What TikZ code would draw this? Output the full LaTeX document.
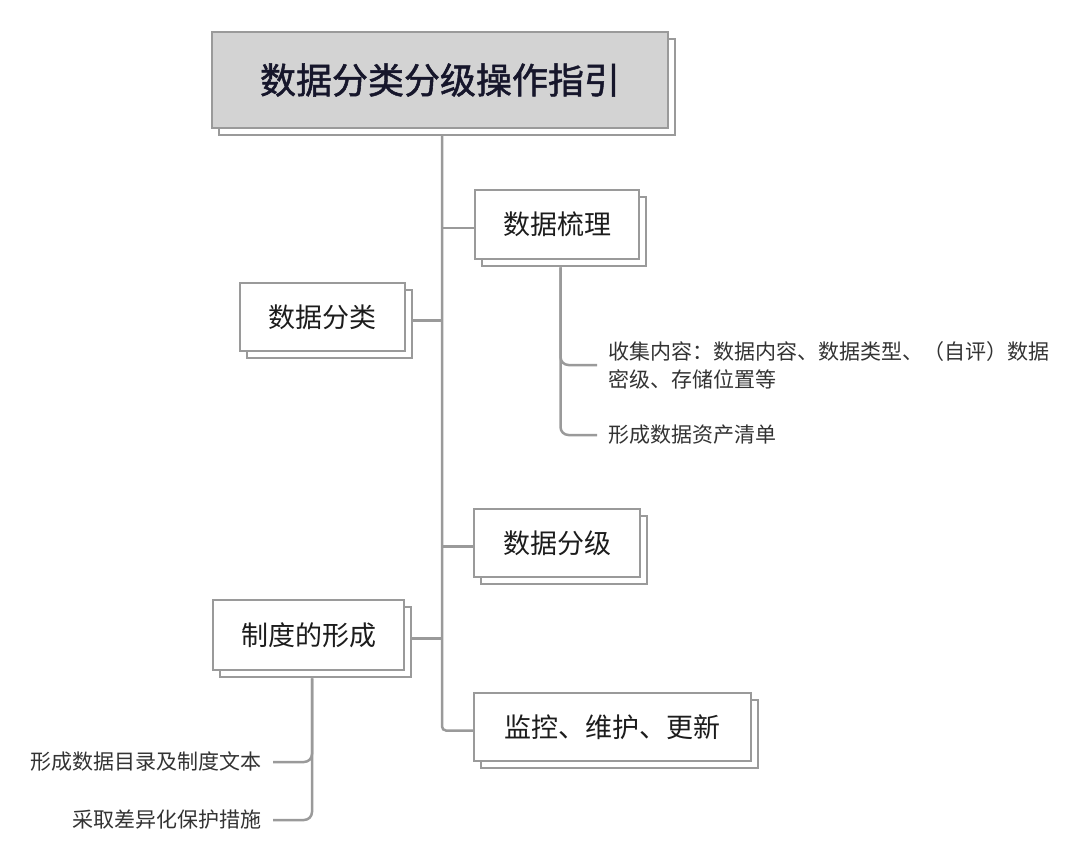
\documentclass[tikz,border=0pt]{standalone}
\usepackage{fontspec}
\setmainfont{Noto Sans CJK SC}
\newfontfamily\headfont{Noto Sans CJK SC}[FakeBold = 1.4]
\usetikzlibrary{shadows}
\definecolor{linegray}{HTML}{9A9A9A}
\definecolor{titlefill}{HTML}{D3D3D3}
\definecolor{titleink}{HTML}{16162B}
\definecolor{boxink}{HTML}{1C1C1C}
\definecolor{leafink}{HTML}{333333}

\begin{document}
\begin{tikzpicture}[x = 1pt, y = -1pt, line width = 2.5pt]
    \tikzstyle{block} = [draw = linegray, fill = white, shape = rectangle, inner sep = 0pt, text = boxink, font = \fontsize{27}{32}\selectfont, minimum height = 68pt, copy shadow = {shadow xshift = 7pt, shadow yshift = -7pt, fill = white, draw = linegray}]
    \tikzstyle{headline} = [block, fill = titlefill, text = titleink, font = \headfont\fontsize{36}{40}\selectfont, minimum width = 456pt, minimum height = 96pt]
    \tikzstyle{leaf} = [inner xsep = 10pt, inner ysep = 0pt, text = leafink, font = \fontsize{21}{28}\selectfont, align = left]
    \tikzstyle{link} = [draw = linegray]
    \tikzstyle{twig} = [draw = linegray, rounded corners = 8pt]

    \useasboundingbox (0,0) rectangle (1080,854);

    \node[headline] (guide) at (440,80) {数据分类分级操作指引};
    \coordinate (top) at (442,135);

    \node[block, minimum width = 164pt, minimum height = 69pt] (sort) at (557,224.5) {数据梳理};
    \node[block, minimum width = 165pt] (classify) at (322.5,317) {数据分类};
    \node[block, minimum width = 166pt] (grade) at (557,543) {数据分级};
    \node[block, minimum width = 191pt, minimum height = 70pt] (rules) at (308.5,635) {制度的形成};
    \node[block, minimum width = 277pt] (monitor) at (612.5,727) {监控、维护、更新};

    \node[leaf, anchor = west] (collect) at (597,365) {收集内容：数据内容、数据类型、（自评）数据\\密级、存储位置等};
    \node[leaf, anchor = west] (asset) at (597,435) {形成数据资产清单};
    \node[leaf, anchor = east] (catalog) at (273,762) {形成数据目录及制度文本};
    \node[leaf, anchor = east] (protect) at (273,820) {采取差异化保护措施};

    % main trunk
    \draw[link, rounded corners = 4pt] (top) |- ([yshift = -3.5pt]monitor.west);
    \draw[link] ([yshift = -3.5pt]sort.west) -| (top);
    \draw[link] ([xshift = 7pt, yshift = -3.5pt]classify.east) -| (top);
    \draw[link] ([yshift = -3.5pt]grade.west) -| (top);
    \draw[link] ([xshift = 7pt, yshift = -3.5pt]rules.east) -| (top);

    % sub branches
    \draw[twig] ([xshift = 3.5pt, yshift = -7pt]sort.south) |- (collect.west);
    \draw[twig] ([xshift = 3.5pt, yshift = -7pt]sort.south) |- (asset.west);
    \draw[twig] ([xshift = 3.5pt, yshift = -7pt]rules.south) |- (catalog.east);
    \draw[twig] ([xshift = 3.5pt, yshift = -7pt]rules.south) |- (protect.east);
\end{tikzpicture}
\end{document}
